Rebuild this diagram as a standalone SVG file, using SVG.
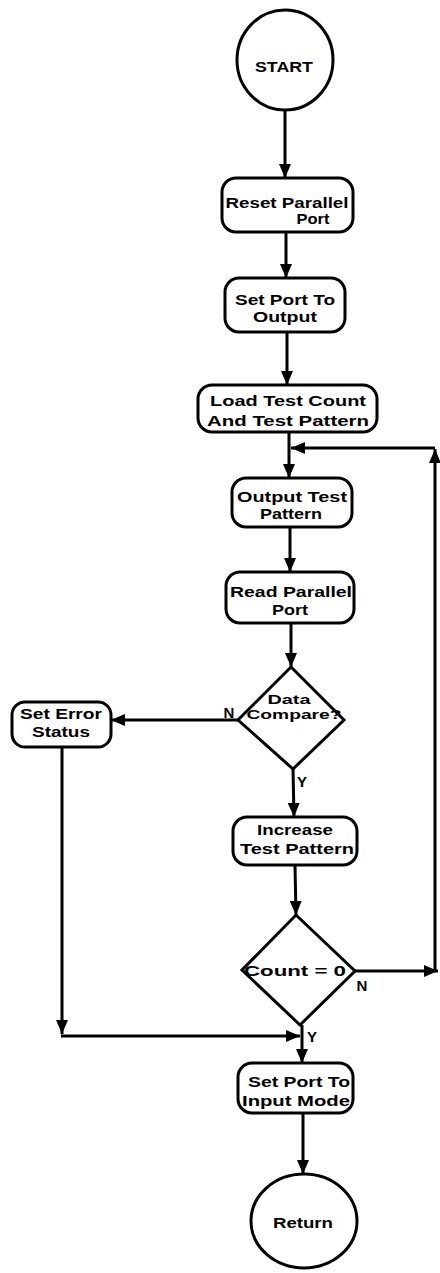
<svg xmlns="http://www.w3.org/2000/svg" width="440" height="1273" viewBox="0 0 440 1273">
  <defs>
    <marker id="arrow" viewBox="0 0 14 12" refX="14" refY="6" markerWidth="14" markerHeight="12" markerUnits="userSpaceOnUse" orient="auto">
      <path d="M0 0 L14 6 L0 12 Z" fill="#000"/>
    </marker>
    <style>
      .shape { fill: #fff; stroke: #000; stroke-width: 3; }
      .edge { fill: none; stroke: #000; stroke-width: 3; }
      .arr { marker-end: url(#arrow); }
      text { font-family: "Liberation Sans", Arial, sans-serif; font-weight: bold; font-size: 15px; fill: #000; }
      .lbl { font-size: 15px; }
      .small { font-size: 13px; }
    </style>
  </defs>
  <rect width="440" height="1273" fill="#fff"/>

  <g id="connectors">
    <line class="edge arr" x1="285" y1="110" x2="285" y2="178"/>
    <line class="edge arr" x1="286" y1="232" x2="286" y2="278"/>
    <line class="edge arr" x1="287" y1="332" x2="287" y2="385"/>
    <line class="edge arr" x1="289" y1="432" x2="289" y2="478"/>
    <line class="edge arr" x1="290" y1="527" x2="290" y2="572"/>
    <line class="edge arr" x1="291" y1="623" x2="291" y2="667"/>
    <!-- Data Compare? : N branch -->
    <line class="edge arr" x1="238" y1="720" x2="111" y2="720"/>
    <!-- Data Compare? : Y branch -->
    <line class="edge arr" x1="293" y1="769" x2="294" y2="817"/>
    <line class="edge arr" x1="295" y1="865" x2="296" y2="915"/>
    <!-- Count = 0 : N loops back -->
    <line class="edge arr" x1="355" y1="971" x2="438" y2="971"/>
    <line class="edge arr" x1="435" y1="971" x2="435" y2="449"/>
    <line class="edge arr" x1="435" y1="448" x2="291" y2="448"/>
    <!-- error path joins the exit -->
    <line class="edge arr" x1="62" y1="747" x2="62" y2="1034"/>
    <line class="edge arr" x1="61" y1="1036" x2="300" y2="1036"/>
    <!-- Count = 0 : Y branch -->
    <line class="edge arr" x1="302" y1="1025" x2="302" y2="1063"/>
    <line class="edge arr" x1="303" y1="1113" x2="303" y2="1174"/>
  </g>

  <g id="start">
    <ellipse class="shape" cx="285" cy="60" rx="48" ry="50"/>
    <text x="284" y="72" text-anchor="middle" font-size="17" textLength="58" lengthAdjust="spacingAndGlyphs">START</text>
  </g>

  <g id="reset-port">
    <rect class="shape" x="222" y="178" width="131" height="54" rx="14"/>
    <text x="287" y="208" text-anchor="middle" textLength="123" lengthAdjust="spacingAndGlyphs">Reset Parallel</text>
    <text x="313" y="224" text-anchor="middle" textLength="33" lengthAdjust="spacingAndGlyphs">Port</text>
  </g>

  <g id="port-output">
    <rect class="shape" x="225" y="278" width="120" height="54" rx="14"/>
    <text x="285" y="305" text-anchor="middle" textLength="100" lengthAdjust="spacingAndGlyphs">Set Port To</text>
    <text x="285" y="322" text-anchor="middle" textLength="64" lengthAdjust="spacingAndGlyphs">Output</text>
  </g>

  <g id="load-count">
    <rect class="shape" x="198" y="385" width="179" height="47" rx="14"/>
    <text x="288" y="406" text-anchor="middle" textLength="156" lengthAdjust="spacingAndGlyphs">Load  Test Count</text>
    <text x="288" y="426" text-anchor="middle" textLength="162" lengthAdjust="spacingAndGlyphs">And Test Pattern</text>
  </g>

  <g id="output-pattern">
    <rect class="shape" x="232" y="478" width="120" height="49" rx="14"/>
    <text x="292" y="502" text-anchor="middle" textLength="110" lengthAdjust="spacingAndGlyphs">Output Test</text>
    <text x="291" y="519" text-anchor="middle" textLength="62" lengthAdjust="spacingAndGlyphs">Pattern</text>
  </g>

  <g id="read-port">
    <rect class="shape" x="226" y="572" width="128" height="51" rx="14"/>
    <text x="291" y="597" text-anchor="middle" textLength="122" lengthAdjust="spacingAndGlyphs">Read Parallel</text>
    <text x="290" y="615" text-anchor="middle" textLength="36" lengthAdjust="spacingAndGlyphs">Port</text>
  </g>

  <g id="data-compare">
    <polygon class="shape" points="291,667 344,720 293,769 238,720"/>
    <text class="small" x="289" y="704" text-anchor="middle" textLength="43" lengthAdjust="spacingAndGlyphs">Data</text>
    <text class="small" x="294" y="719" text-anchor="middle" textLength="95" lengthAdjust="spacingAndGlyphs">Compare?</text>
    <text class="lbl" x="229" y="718" text-anchor="middle">N</text>
    <text class="lbl" x="302" y="787" text-anchor="middle">Y</text>
  </g>

  <g id="error-status">
    <rect class="shape" x="12" y="702" width="99" height="45" rx="13"/>
    <text x="61" y="719" text-anchor="middle" textLength="82" lengthAdjust="spacingAndGlyphs">Set Error</text>
    <text x="61" y="737" text-anchor="middle" textLength="58" lengthAdjust="spacingAndGlyphs">Status</text>
  </g>

  <g id="increase-pattern">
    <rect class="shape" x="233" y="817" width="124" height="48" rx="14"/>
    <text x="295" y="835" text-anchor="middle" textLength="76" lengthAdjust="spacingAndGlyphs">Increase</text>
    <text x="297" y="854" text-anchor="middle" textLength="114" lengthAdjust="spacingAndGlyphs">Test Pattern</text>
  </g>

  <g id="count-zero">
    <polygon class="shape" points="296,915 355,971 300,1025 242,970"/>
    <text x="295" y="976" text-anchor="middle" textLength="102" lengthAdjust="spacingAndGlyphs">Count = 0</text>
    <text class="lbl" x="362" y="991" text-anchor="middle">N</text>
    <text class="lbl" x="312" y="1042" text-anchor="middle">Y</text>
  </g>

  <g id="port-input">
    <rect class="shape" x="238" y="1063" width="115" height="50" rx="14"/>
    <text x="299" y="1087" text-anchor="middle" textLength="102" lengthAdjust="spacingAndGlyphs">Set Port To</text>
    <text x="296" y="1106" text-anchor="middle" textLength="108" lengthAdjust="spacingAndGlyphs">Input Mode</text>
  </g>

  <g id="return">
    <ellipse class="shape" cx="304" cy="1221" rx="53" ry="47"/>
    <text x="303" y="1228" text-anchor="middle" font-size="16" textLength="60" lengthAdjust="spacingAndGlyphs">Return</text>
  </g>
</svg>
